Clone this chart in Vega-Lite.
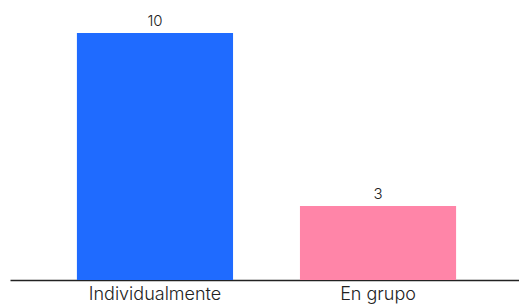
{
  "$schema": "https://vega.github.io/schema/vega-lite/v6.json",
  "width": 513,
  "height": 247,
  "padding": {"left": 10, "top": 33, "right": 0, "bottom": 27},
  "autosize": {"type": "none"},
  "background": "white",
  "config": {"view": {"stroke": null}, "font": "Inter"},
  "data": {"values": [
    {"categoria": "Individualmente", "valor": 10},
    {"categoria": "En grupo", "valor": 3}
  ]},
  "encoding": {
    "x": {"field": "categoria", "type": "nominal", "sort": null,
      "scale": {"paddingInner": 0.3, "paddingOuter": 0.3},
      "axis": {"title": null, "labelAngle": 0, "ticks": false, "domainColor": "#222222", "domainWidth": 1.5,
        "labelFontSize": 18, "labelFontWeight": 300, "labelColor": "#222222", "labelPadding": 5, "labelFont": "Inter"}},
    "y": {"field": "valor", "type": "quantitative", "scale": {"domain": [0, 10], "nice": false}, "axis": null}
  },
  "layer": [
    {"mark": {"type": "bar"},
     "encoding": {"color": {"field": "categoria", "type": "nominal", "legend": null,
       "scale": {"domain": ["Individualmente", "En grupo"], "range": ["#1f6bff", "#ff85a8"]}}}},
    {"mark": {"type": "text", "baseline": "bottom", "dy": -4, "fontSize": 15, "fontWeight": 300, "color": "#222222", "font": "Inter"},
     "encoding": {"text": {"field": "valor", "type": "quantitative"}}}
  ]
}
